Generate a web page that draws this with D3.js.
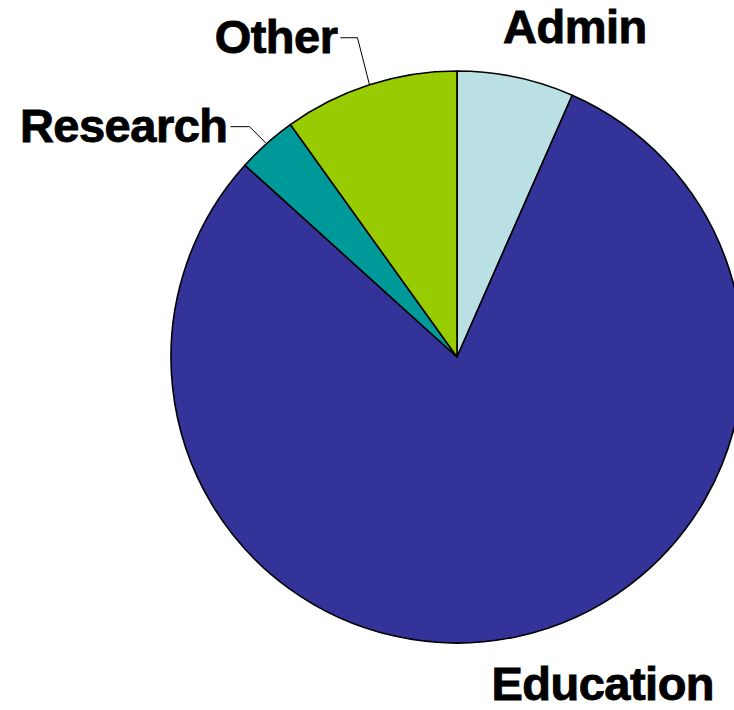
<!DOCTYPE html>
<html>
<head>
<meta charset="utf-8">
<script src="https://cdn.jsdelivr.net/npm/d3@7"></script>
<style>
  html, body { margin: 0; padding: 0; background: #fff; overflow: hidden; }
  text { font-family: "Liberation Sans", Arial, sans-serif; font-weight: bold; }
</style>
</head>
<body>
<div id="pie-chart"></div>
<script>
// slices, clockwise from 12 o'clock
var categories = ['Admin', 'Education', 'Research', 'Other']
var shares = [6.6, 80.1, 3.4, 9.9]
var colors = ['#bbe0e3', '#333399', '#009999', '#99cc00']

var width = 734
var height = 710
var cx = 457
var cy = 357
var radius = 286

var svg = d3.select('#pie-chart')
  .append('svg')
  .attr('width', width)
  .attr('height', height)

var g = svg.append('g')
  .attr('transform', 'translate(' + cx + ',' + cy + ')')

var data = categories.map((c, i) => ({ name: c, value: shares[i], color: colors[i] }))

var pie = d3.pie().sort(null).value(d => d.value)
var arc = d3.arc().innerRadius(0).outerRadius(radius)
var arcs = pie(data)

g.selectAll('path.slice')
  .data(arcs)
  .enter()
  .append('path')
  .attr('class', 'slice')
  .attr('d', arc)
  .attr('fill', d => d.data.color)
  .attr('stroke', '#000')
  .attr('stroke-width', 1.6)
  .attr('stroke-linejoin', 'round')

// point on the rim at the middle of a slice
function rimPoint(d, r) {
  var a = (d.startAngle + d.endAngle) / 2
  return [Math.sin(a) * r, -Math.cos(a) * r]
}

// label placement relative to the slice's rim point
var labelCfg = {
  Admin: { leader: false, dx: 59, dy: -34, anchor: 'middle' },
  Education: { leader: false, dx: 86, dy: 63, anchor: 'middle' },
  Research: { leader: true, ex: -17, ey: -17, len: 19, dy: 15 },
  Other: { leader: true, ex: -12, ey: -47, len: 17, dy: 15 }
}

function addLabel(x, y, anchor, name) {
  g.append('text')
    .attr('x', x)
    .attr('y', y)
    .attr('text-anchor', anchor)
    .attr('font-size', 47)
    .attr('letter-spacing', -0.5)
    .attr('stroke', '#000')
    .attr('stroke-width', 0.9)
    .text(name)
}

arcs.forEach(function (d) {
  var cfg = labelCfg[d.data.name]
  var p = rimPoint(d, radius)
  if (cfg.leader) {
    var elbow = [p[0] + cfg.ex, p[1] + cfg.ey]
    var end = [elbow[0] - cfg.len, elbow[1]]
    g.append('polyline')
      .attr('points', [p, elbow, end].map(q => q.join(',')).join(' '))
      .attr('fill', 'none')
      .attr('stroke', '#000')
      .attr('stroke-width', 1)
    addLabel(end[0] - 3, end[1] + cfg.dy, 'end', d.data.name)
  } else {
    addLabel(p[0] + cfg.dx, p[1] + cfg.dy, cfg.anchor, d.data.name)
  }
})
</script>
</body>
</html>
